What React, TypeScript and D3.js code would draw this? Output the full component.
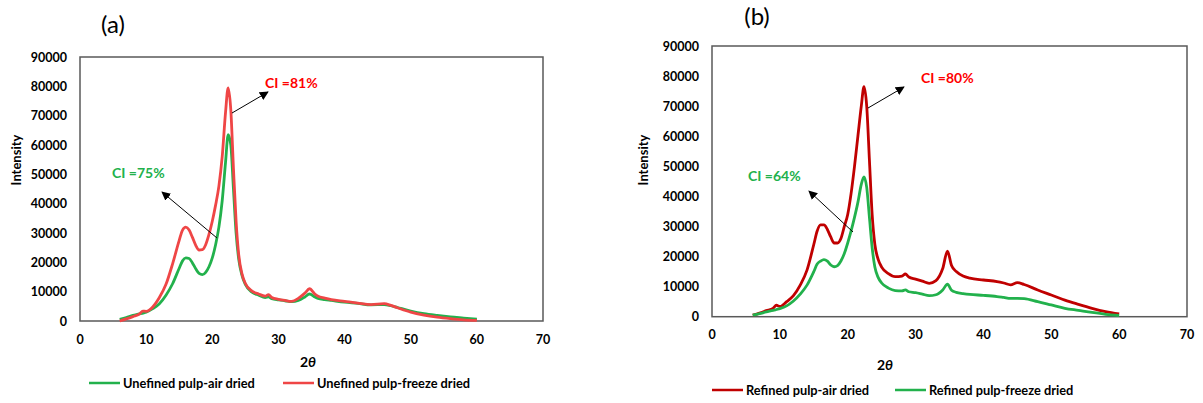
import React from "react";
import * as d3 from "d3";

// ---------- Data ----------
const thetaA = [6,7,8,9,9.5,10,11,12,13,14,15,15.5,16,16.5,17,17.5,18,18.5,19,19.5,20,20.5,21,21.5,22,22.4,22.8,23.2,23.6,24,24.5,25,26,27,28,28.5,29,30,31,32,33,34,34.7,35.5,36,37,38,40,42,44,46,47,48,50,52,54,56,58,60];
const unrefinedAir = [600,1200,1900,2400,2700,3000,4200,5900,8800,12700,18000,20500,21500,21300,19800,17800,16200,15800,16600,18500,21500,26000,32000,41000,54000,63500,60000,45000,30000,21000,15500,12500,9800,8800,8000,8200,7600,7200,6900,6600,7000,8200,9200,8200,7700,7300,7000,6400,6000,5500,5600,5200,4600,3400,2500,1900,1400,1000,600];
const unrefinedFreeze = [0,700,1500,2400,3400,3300,4800,8000,12500,19500,27500,31000,32000,31000,28500,25800,24200,24300,26000,29500,34000,39500,46000,56000,71000,79500,72000,52000,34000,22500,16000,12800,10200,9200,8500,9000,8000,7400,7000,6700,7700,9500,11000,9200,8400,7800,7300,6700,6100,5600,5900,5300,4500,3000,2000,1300,800,400,200];

const thetaB = [6,7,8,9,9.5,10,11,12,13,14,15,15.5,16,16.5,17,17.5,18,18.5,19,19.5,20,20.5,21,21.5,22,22.4,22.8,23.2,23.6,24,24.5,25,26,27,28,28.5,29,30,31,32,33,34,34.7,35.3,36,37,38,40,42,43,44,45,46,48,50,52,54,56,58,60];
const refinedAir = [500,1200,2000,2800,3800,3400,5000,7000,10500,15500,24000,28500,30500,30500,29000,26500,24500,24500,26000,30000,34000,41000,50000,60000,70000,76500,70000,52000,34000,24000,19000,16500,14300,13300,13500,14200,13200,12500,11800,11100,12000,16000,21800,17000,15000,13500,12800,12200,11700,11200,10600,11300,10700,8900,7200,5500,4100,2800,1700,900];
const refinedFreeze = [500,1000,1600,2100,2400,2700,3600,5200,7500,10500,15000,17500,18500,19000,18500,17200,16600,17000,18500,21000,24500,28500,33000,38000,44000,46500,43000,33000,23000,16500,13000,11200,9500,8700,8600,8900,8300,8000,7500,7000,7300,8900,10800,8800,8100,7700,7400,7100,6700,6400,6100,6100,6000,5000,3900,2800,2100,1400,800,400];

const xTicks = [0,10,20,30,40,50,60,70];
const yTicks = [0,10000,20000,30000,40000,50000,60000,70000,80000,90000];

const GREEN = "#22b14c";
const RED_A = "#ef4646";
const RED_B = "#c00000";
const ANNOT_RED = "#ff0000";

type Series = { name: string; values: number[]; color: string };
type Annot = { text: string; color: string; tx: number; ty: number; from: [number, number]; to: [number, number] };

const FONT = "Lato, 'Open Sans', sans-serif";

function Panel(props: {
  id: string;
  title: string;
  titlePos: [number, number];
  box: { left: number; right: number; top: number; bottom: number };
  theta: number[];
  series: Series[];
  annots: Annot[];
  xLabelPos: [number, number];
  yLabelPos: [number, number];
  legendY: number;
  legendX: number[];
}) {
  const { box } = props;
  const x = d3.scaleLinear().domain([0, 70]).range([box.left, box.right]);
  const y = d3.scaleLinear().domain([0, 90000]).range([box.bottom, box.top]);
  const line = d3
    .line<number>()
    .x((_, i) => x(props.theta[i]))
    .y((d) => y(d))
    .curve(d3.curveMonotoneX);
  const markerId = "arrow-" + props.id;
  return (
    <g>
      <defs>
        <marker id={markerId} viewBox="0 0 10 10" refX="9" refY="5" markerWidth="9" markerHeight="9" markerUnits="userSpaceOnUse" orient="auto">
          <path d="M0,0 L10,5 L0,10 z" fill="#000" />
        </marker>
      </defs>
      <text x={props.titlePos[0]} y={props.titlePos[1]} textAnchor="middle" fontFamily={FONT} fontSize={24} fill="#000">
        {props.title}
      </text>
      <rect x={box.left} y={box.top} width={box.right - box.left} height={box.bottom - box.top} fill="none" stroke="#595959" strokeWidth={1.5} />
      {yTicks.map((t) => (
        <text key={"y" + t} x={box.left - 13} y={y(t)} dy="0.36em" textAnchor="end" fontFamily={FONT} fontWeight="bold" fontSize={12.5} fill="#000">
          {t}
        </text>
      ))}
      {xTicks.map((t) => (
        <text key={"x" + t} x={x(t)} y={box.bottom + 18} dy="0.36em" textAnchor="middle" fontFamily={FONT} fontWeight="bold" fontSize={12.5} fill="#000">
          {t}
        </text>
      ))}
      {props.series.map((s) => (
        <path key={s.name} d={line(s.values) || ""} fill="none" stroke={s.color} strokeWidth={2.8} strokeLinejoin="round" />
      ))}
      {props.annots.map((a) => (
        <g key={a.text}>
          <line x1={x(a.from[0])} y1={y(a.from[1])} x2={x(a.to[0])} y2={y(a.to[1])} stroke="#000" strokeWidth={1} markerEnd={`url(#${markerId})`} />
          <text x={x(a.tx)} y={y(a.ty)} dy="0.36em" fontFamily={FONT} fontWeight="bold" fontSize={14} fill={a.color}>
            {a.text}
          </text>
        </g>
      ))}
      <text x={props.xLabelPos[0]} y={props.xLabelPos[1]} dy="0.36em" textAnchor="middle" fontFamily={FONT} fontWeight="bold" fontSize={14} fill="#000">
        2<tspan fontStyle="italic">θ</tspan>
      </text>
      <text
        transform={`translate(${props.yLabelPos[0]},${props.yLabelPos[1]}) rotate(-90)`}
        dy="0.36em"
        textAnchor="middle"
        fontFamily={FONT}
        fontWeight="bold"
        fontSize={13}
        fill="#000"
      >
        Intensity
      </text>
      {props.series.map((s, i) => (
        <g key={"leg" + s.name}>
          <line x1={props.legendX[i]} x2={props.legendX[i] + 31} y1={props.legendY} y2={props.legendY} stroke={s.color} strokeWidth={2.5} />
          <text x={props.legendX[i] + 34} y={props.legendY} dy="0.36em" fontFamily={FONT} fontWeight="bold" fontSize={12.8} fill="#000">
            {s.name}
          </text>
        </g>
      ))}
    </g>
  );
}

export default function App() {
  return (
    <svg width={1203} height={403} style={{ position: "absolute", left: 0, top: 0, background: "#fff" }}>
      <rect x={0} y={0} width={1203} height={403} fill="#fff" />
      <Panel
        id="a"
        title="(a)"
        titlePos={[113, 33]}
        box={{ left: 80, right: 543, top: 57, bottom: 321 }}
        theta={thetaA}
        series={[
          { name: "Unefined pulp-air dried", values: unrefinedAir, color: GREEN },
          { name: "Unefined pulp-freeze dried", values: unrefinedFreeze, color: RED_A },
        ]}
        annots={[
          { text: "CI =81%", color: ANNOT_RED, tx: 27.97, ty: 81150, from: [22.98, 70900], to: [28.42, 78080] },
          { text: "CI =75%", color: GREEN, tx: 4.84, ty: 50460, from: [20.71, 28300], to: [12.4, 43980] },
        ]}
        xLabelPos={[308, 362]}
        yLabelPos={[16, 160]}
        legendY={383}
        legendX={[89, 283]}
      />
      <Panel
        id="b"
        title="(b)"
        titlePos={[757, 25]}
        box={{ left: 712, right: 1187, top: 46, bottom: 316.7 }}
        theta={thetaB}
        series={[
          { name: "Refined pulp-air dried", values: refinedAir, color: RED_B },
          { name: "Refined pulp-freeze dried", values: refinedFreeze, color: GREEN },
        ]}
        annots={[
          { text: "CI =80%", color: ANNOT_RED, tx: 30.8, ty: 79360, from: [22.99, 69380], to: [28.29, 76360] },
          { text: "CI =64%", color: GREEN, tx: 5.3, ty: 46780, from: [20.78, 28160], to: [14.29, 41790] },
        ]}
        xLabelPos={[885, 365]}
        yLabelPos={[643, 160]}
        legendY={390}
        legendX={[712, 895]}
      />
    </svg>
  );
}
